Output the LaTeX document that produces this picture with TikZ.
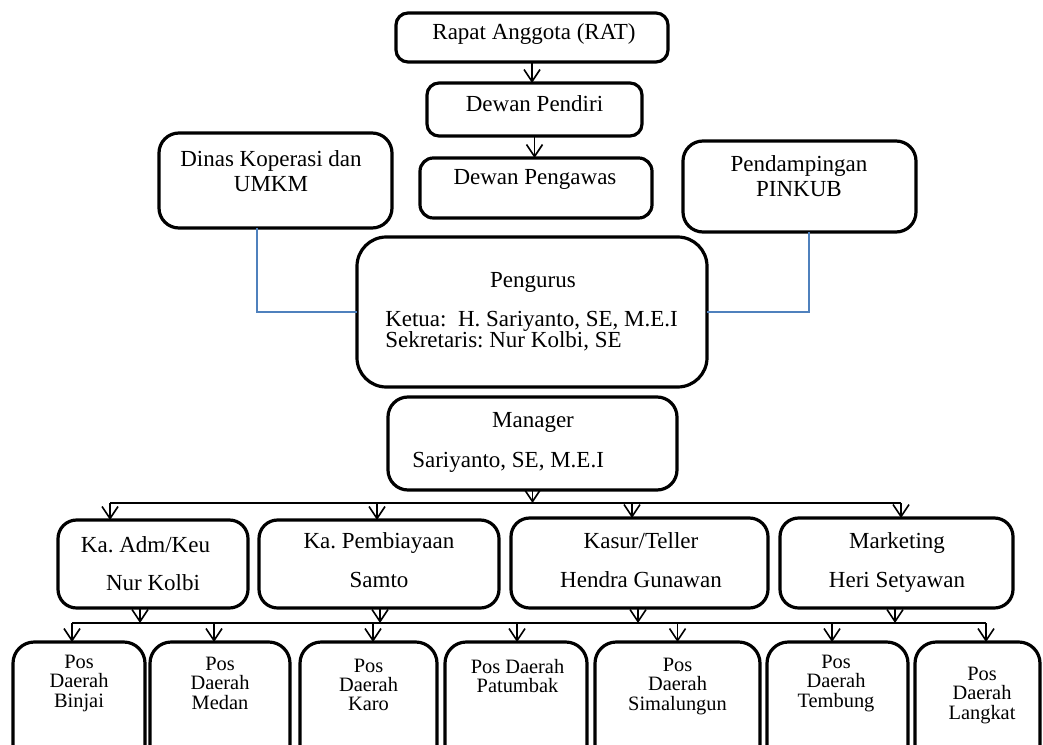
\documentclass[tikz,border=0pt]{standalone}
\usepackage{fontspec}
\setmainfont{Liberation Serif}
\usetikzlibrary{arrows.meta,calc}
\definecolor{linkblue}{RGB}{79,129,189}
\newcommand\mlines[1]{\begin{tabular}[t]{@{}c@{}}#1\end{tabular}}
\frenchspacing
\begin{document}
\begin{tikzpicture}[x=0.75pt,y=-0.75pt,
  box/.style={draw, line width=2.4pt, rounded corners=#1, inner sep=0pt, outer sep=0pt},
  box/.default=9pt,
  txt/.style={inner sep=0pt, anchor=base, font=\fontsize{17.25}{18.75}\selectfont},
  small/.style={inner sep=0pt, anchor=base, font=\fontsize{15.3}{14.25}\selectfont},
  conn/.style={line width=1.2pt},
  arr/.style={line width=1.2pt, -{Straight Barb[length=9pt,width=12pt]}},
  blueline/.style={draw=linkblue, line width=0.9pt}]
\useasboundingbox (0,0) rectangle (1043,745);

% top chain
\node[box=9pt, minimum width=204pt, minimum height=36.75pt] (rat) at (532,37.5) {};
\node[txt] (rat-t) at (534,40) {Rapat Anggota (RAT)};
\node[box=9pt, minimum width=161.25pt, minimum height=39.75pt] (pendiri) at (534.5,109.5) {};
\node[txt] (pendiri-t) at (534.5,112) {Dewan Pendiri};
\node[box=10pt, minimum width=174pt, minimum height=45pt] (pengawas) at (536,188) {};
\node[txt] (pengawas-t) at (535,185) {Dewan Pengawas};

% side boxes
\node[box=15pt, minimum width=174.75pt, minimum height=71.25pt] (dinas) at (275.5,180.5) {};
\node[txt] (dinas-t) at (271,167) {\mlines{Dinas Koperasi dan\\UMKM}};
\node[box=15pt, minimum width=174.75pt, minimum height=68.25pt] (pinkub) at (799.5,186.5) {};
\node[txt] (pinkub-t) at (799,172) {\mlines{Pendampingan\\PINKUB}};

% pengurus
\node[box=22pt, minimum width=262.5pt, minimum height=112.5pt] (pengurus) at (532,312) {};
\node[txt] (pengurus-t) at (533,288) {Pengurus};
\node[txt, anchor=base west] (ketua) at (385,327) {Ketua:\ \ H. Sariyanto, SE, M.E.I};
\node[txt, anchor=base west] (sekretaris) at (385,348) {Sekretaris: Nur Kolbi, SE};

% manager
\node[box=15pt, minimum width=216.75pt, minimum height=69.75pt] (manager) at (532.5,443.5) {};
\node[txt] (manager-t) at (533,427) {Manager};
\node[txt, anchor=base west] (manager-n) at (412,467) {Sariyanto, SE, M.E.I};

% level 2
\node[box=14pt, minimum width=142.5pt, minimum height=66pt] (adm) at (153,564) {};
\node[txt] (adm-t) at (145.5,552) {Ka. Adm/Keu};
\node[txt] (adm-n) at (153,590) {Nur Kolbi};
\node[box=14pt, minimum width=180pt, minimum height=66pt] (pemb) at (379,564) {};
\node[txt] (pemb-t) at (379,548) {Ka. Pembiayaan};
\node[txt] (pemb-n) at (379,587) {Samto};
\node[box=14pt, minimum width=192.75pt, minimum height=67.5pt] (kasur) at (639.5,563) {};
\node[txt] (kasur-t) at (641,548) {Kasur/Teller};
\node[txt] (kasur-n) at (641,587) {Hendra Gunawan};
\node[box=14pt, minimum width=174.75pt, minimum height=67.5pt] (mkt) at (896.5,563) {};
\node[txt] (mkt-t) at (897,548) {Marketing};
\node[txt] (mkt-n) at (897,587) {Heri Setyawan};

% level 3
\node[box=16pt, minimum width=99pt, minimum height=96pt] (binjai) at (79,706) {};
\node[small] (binjai-t) at (79,668) {\mlines{Pos\\Daerah\\Binjai}};
\node[box=16pt, minimum width=105pt, minimum height=96pt] (medan) at (220,706) {};
\node[small] (medan-t) at (220,670) {\mlines{Pos\\Daerah\\Medan}};
\node[box=16pt, minimum width=102.75pt, minimum height=96pt] (karo) at (368.5,706) {};
\node[small] (karo-t) at (368.5,672) {\mlines{Pos\\Daerah\\Karo}};
\node[box=16pt, minimum width=106.5pt, minimum height=96pt] (patumbak) at (516,706) {};
\node[small] (patumbak-t) at (517.5,673) {\mlines{Pos Daerah\\Patumbak}};
\node[box=16pt, minimum width=123.75pt, minimum height=96pt] (simalungun) at (677.5,706) {};
\node[small] (simalungun-t) at (677.5,671) {\mlines{Pos\\Daerah\\Simalungun}};
\node[box=16pt, minimum width=105.75pt, minimum height=96pt] (tembung) at (837.5,706) {};
\node[small] (tembung-t) at (836,668) {\mlines{Pos\\Daerah\\Tembung}};
\node[box=16pt, minimum width=93.75pt, minimum height=96pt] (langkat) at (977.5,706) {};
\node[small] (langkat-t) at (982,680) {\mlines{Pos\\Daerah\\Langkat}};

% top connectors
\draw[arr] (rat.south) -- (rat.south |- pendiri.north);
\draw[arr] (pendiri.south) -- (pendiri.south |- pengawas.north);

% blue links
\draw[blueline] ($(dinas.south)+(-18.5,0)$) |- (pengurus.west);
\draw[blueline] ($(pinkub.south)+(9.5,0)$) |- (pengurus.east);

% manager to level 2
\coordinate (bus1) at (532,503);
\coordinate (adm-in) at ($(adm.north)+(-43,0)$);
\coordinate (pemb-in) at ($(pemb.north)+(-2,0)$);
\coordinate (kasur-in) at ($(kasur.north)+(-7.5,0)$);
\coordinate (mkt-in) at ($(mkt.north)+(4.5,0)$);
\draw[conn] (adm-in |- bus1) -- (mkt-in |- bus1);
\draw[arr] (manager.south) -- (manager.south |- bus1);
\foreach \c in {adm-in,pemb-in,kasur-in,mkt-in} \draw[arr] (\c |- bus1) -- (\c);

% level 2 to level 3
\coordinate (bus2) at (532,623);
\coordinate (adm-out) at ($(adm.south)+(-13,0)$);
\coordinate (pemb-out) at ($(pemb.south)+(1,0)$);
\coordinate (kasur-out) at ($(kasur.south)+(-1.5,0)$);
\coordinate (mkt-out) at ($(mkt.south)+(-1.5,0)$);
\foreach \c in {adm-out,pemb-out,kasur-out,mkt-out} \draw[arr] (\c) -- (\c |- bus2);
\coordinate (binjai-in) at ($(binjai.north)+(-7,0)$);
\coordinate (medan-in) at ($(medan.north)+(-6,0)$);
\coordinate (karo-in) at ($(karo.north)+(4.5,0)$);
\coordinate (patumbak-in) at ($(patumbak.north)+(1,0)$);
\coordinate (simalungun-in) at ($(simalungun.north)+(0,0)$);
\coordinate (tembung-in) at ($(tembung.north)+(-5.5,0)$);
\coordinate (langkat-in) at ($(langkat.north)+(8.5,0)$);
\draw[conn] (binjai-in |- bus2) -- (langkat-in |- bus2);
\foreach \c in {binjai-in,medan-in,karo-in,patumbak-in,simalungun-in,tembung-in,langkat-in} \draw[arr] (\c |- bus2) -- (\c);
\end{tikzpicture}
\end{document}
